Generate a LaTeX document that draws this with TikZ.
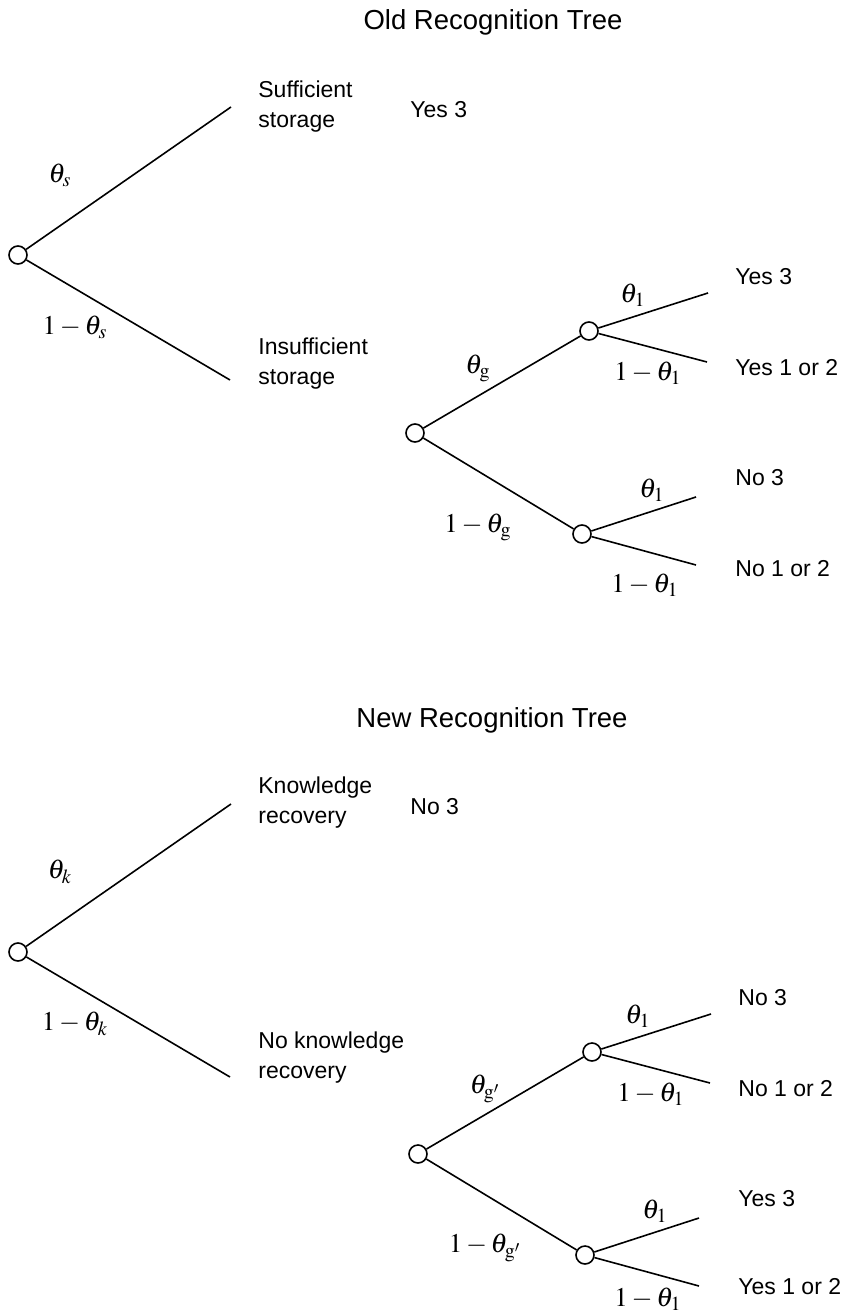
\documentclass[tikz,border=0pt]{standalone}
\usepackage{mathptmx}
\usepackage[no-math]{fontspec}
\setmainfont{Liberation Sans}
\begin{document}
\begin{tikzpicture}[x=0.5pt,y=-0.5pt,
  chance/.style={circle,draw,line width=0.8pt,minimum size=9pt,inner sep=0pt,fill=white},
  branch/.style={line width=0.8pt},
  outcome/.style={anchor=west,align=left,inner sep=0pt,font=\fontsize{11.5}{15}\selectfont},
  prob/.style={inner sep=0pt,font=\fontsize{13.5}{15}\selectfont},
  heading/.style={inner sep=0pt,font=\fontsize{13.75}{16}\selectfont}]
\useasboundingbox (0,0) rectangle (848,1316);

% ---------------- Old recognition tree ----------------
\node[heading] (oldtitle) at (493,22) {Old Recognition Tree};
\node[chance] (os) at (18,255) {};
\coordinate (osA) at (231,107);
\coordinate (osB) at (230,380);
\draw[branch] (os) -- (osA);
\draw[branch] (os) -- (osB);
\node[prob] (ops) at (60,175) {$\theta_s$};
\node[prob] (opns) at (75,327) {$1-\theta_s$};
\node[outcome] (osuf) at (258,107) {Sufficient\\storage};
\node[outcome] (oyes) at (410,110) {Yes 3};
\node[outcome] (oins) at (258,364) {Insufficient\\storage};

\node[chance] (og) at (415,433) {};
\node[chance] (oga) at (589,331) {};
\node[chance] (ogb) at (582,534) {};
\draw[branch] (og) -- (oga);
\draw[branch] (og) -- (ogb);
\coordinate (oga1) at (708,293);
\coordinate (oga2) at (707,362);
\coordinate (ogb1) at (696,497);
\coordinate (ogb2) at (696,565);
\draw[branch] (oga) -- (oga1);
\draw[branch] (oga) -- (oga2);
\draw[branch] (ogb) -- (ogb1);
\draw[branch] (ogb) -- (ogb2);
\node[prob] (opg) at (478,368) {$\theta_{\mathrm{g}}$};
\node[prob] (opng) at (478,527) {$1-\theta_{\mathrm{g}}$};
\node[prob] (opa1) at (633,295) {$\theta_1$};
\node[prob] (opa2) at (648,373) {$1-\theta_1$};
\node[prob] (opb1) at (652,490) {$\theta_1$};
\node[prob] (opb2) at (645,585) {$1-\theta_1$};
\node[outcome] (oleaf1) at (735,277) {Yes 3};
\node[outcome] (oleaf2) at (735,368) {Yes 1 or 2};
\node[outcome] (oleaf3) at (735,478) {No 3};
\node[outcome] (oleaf4) at (735,569) {No 1 or 2};

% ---------------- New recognition tree ----------------
\node[heading] (newtitle) at (492,720) {New Recognition Tree};
\node[chance] (nk) at (18,952) {};
\coordinate (nkA) at (231,804);
\coordinate (nkB) at (230,1077);
\draw[branch] (nk) -- (nkA);
\draw[branch] (nk) -- (nkB);
\node[prob] (npk) at (60,872) {$\theta_k$};
\node[prob] (npnk) at (75,1024) {$1-\theta_k$};
\node[outcome] (nkn) at (258,803) {Knowledge\\recovery};
\node[outcome] (nno) at (410,807) {No 3};
\node[outcome] (nnkn) at (258,1058) {No knowledge\\recovery};

\begin{scope}[shift={(3,721)}]
\node[chance] (ng) at (415,433) {};
\node[chance] (nga) at (589,331) {};
\node[chance] (ngb) at (582,534) {};
\draw[branch] (ng) -- (nga);
\draw[branch] (ng) -- (ngb);
\coordinate (nga1) at (708,293);
\coordinate (nga2) at (707,362);
\coordinate (ngb1) at (696,497);
\coordinate (ngb2) at (696,565);
\draw[branch] (nga) -- (nga1);
\draw[branch] (nga) -- (nga2);
\draw[branch] (ngb) -- (ngb1);
\draw[branch] (ngb) -- (ngb2);
\node[prob] (npg) at (482,368) {$\theta_{\mathrm{g}'}$};
\node[prob] (npng) at (482,527) {$1-\theta_{\mathrm{g}'}$};
\node[prob] (npa1) at (635,295) {$\theta_1$};
\node[prob] (npa2) at (648,373) {$1-\theta_1$};
\node[prob] (npb1) at (652,490) {$\theta_1$};
\node[prob] (npb2) at (645,578) {$1-\theta_1$};
\node[outcome] (nleaf1) at (735,277) {No 3};
\node[outcome] (nleaf2) at (735,368) {No 1 or 2};
\node[outcome] (nleaf3) at (735,478) {Yes 3};
\node[outcome] (nleaf4) at (735,566) {Yes 1 or 2};
\end{scope}
\end{tikzpicture}
\end{document}
